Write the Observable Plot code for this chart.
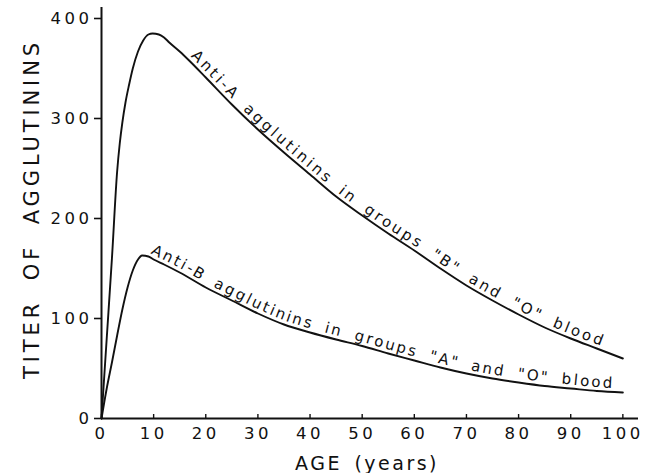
<!DOCTYPE html>
<html>
<head>
<meta charset="utf-8">
<script src="https://cdn.jsdelivr.net/npm/d3@7"></script>
<script src="https://cdn.jsdelivr.net/npm/@observablehq/plot@0.6"></script>
<style>
  html, body { margin: 0; padding: 0; background: #fff; }
</style>
</head>
<body>
<script>
// Anti-A agglutinins in groups "B" and "O" blood
const antiAAge   = [0, 1, 2, 3, 3.5, 4, 4.6, 5.3, 6, 7, 8, 9, 9.8, 11, 12, 13, 15, 17, 20, 25, 30, 35, 40, 45, 50, 55, 60, 65, 70, 75, 80, 85, 90, 95, 100];
const antiAValue = [0, 80, 160, 247, 275, 296, 316, 334, 350, 367, 378, 384, 385, 384, 381, 376, 367, 357, 341, 314, 289, 266, 244, 222, 203, 185, 168, 150, 133, 118, 104, 91, 80, 70, 60];
// Anti-B agglutinins in groups "A" and "O" blood
const antiBAge   = [0, 1, 2, 3, 4, 5, 6, 7, 7.8, 9, 10, 12, 15, 20, 25, 30, 35, 40, 45, 50, 55, 60, 65, 70, 75, 80, 85, 90, 95, 100];
const antiBValue = [0, 30, 56, 83, 109, 131, 148, 159, 163, 162, 159, 154, 146, 131, 118, 105, 94, 86, 79, 72.5, 65, 58, 51, 45, 40, 36, 32.5, 30, 27.5, 26];

const xTicks = [0, 10, 20, 30, 40, 50, 60, 70, 80, 90, 100];
const yTicks = [0, 100, 200, 300, 400];

const labelA = 'Anti-A agglutinins in groups "B" and "O" blood';
const labelB = 'Anti-B agglutinins in groups "A" and "O" blood';
const labelASpan = [16.5, 96];
const labelBSpan = [9, 98.3];
const yTitle = "TITER OF AGGLUTININS";
const xTitle = "AGE (years)";

const dataA = antiAAge.map((a, i) => ({age: a, value: antiAValue[i]}));
const dataB = antiBAge.map((a, i) => ({age: a, value: antiBValue[i]}));

const FONT = "'DejaVu Sans', sans-serif";

const plot = Plot.plot({
  width: 646,
  height: 473,
  marginLeft: 101,
  marginRight: 8,
  marginTop: 7,
  marginBottom: 55,
  x: {domain: [0, 103]},
  y: {domain: [0, 411]},
  style: {fontFamily: FONT, background: "#fff", color: "#111", overflow: "visible"},
  marks: [
    Plot.axisY({ticks: yTicks, tickSize: 7, tickPadding: 2, fontSize: 16.5, label: null, strokeWidth: 1.6}),
    Plot.axisX({ticks: xTicks, tickSize: 0, tickPadding: 9, fontSize: 16.5, label: null}),
    Plot.ruleX(xTicks, {x: d => d, y1: 0, y2: 4, strokeWidth: 1.4}),
    Plot.ruleX([0], {strokeWidth: 2}),
    Plot.ruleY([0], {strokeWidth: 2}),
    Plot.line(dataA, {x: "age", y: "value", curve: "monotone-x", stroke: "#111", strokeWidth: 1.9}),
    Plot.line(dataB, {x: "age", y: "value", curve: "monotone-x", stroke: "#111", strokeWidth: 1.9}),
    Plot.text([yTitle], {text: d => d, frameAnchor: "left", textAnchor: "middle", lineAnchor: "middle", dx: -69, dy: -4, rotate: -90, fontSize: 21}),
    Plot.text([xTitle], {text: d => d, frameAnchor: "bottom", textAnchor: "middle", lineAnchor: "middle", dx: -3, dy: 45, fontSize: 19})
  ]
});
document.body.append(plot);

const svg = plot.tagName.toLowerCase() === "svg" ? plot : plot.querySelector("svg");

function fitSpacing(t, target, wordSpacing) {
  t.style.wordSpacing = wordSpacing + "px";
  t.style.letterSpacing = "0px";
  const n = t.textContent.length;
  const len0 = t.getComputedTextLength();
  t.style.letterSpacing = ((target - len0) / n) + "px";
}

svg.querySelectorAll('g[aria-label="y-axis tick label"] text, g[aria-label="x-axis tick label"] text').forEach(t => t.style.letterSpacing = "3.5px");
svg.querySelectorAll('g[aria-label="text"] text').forEach(t => {
  if (t.textContent === yTitle) fitSpacing(t, 340, 9);
  if (t.textContent === xTitle) fitSpacing(t, 144, 4);
});

const xs = plot.scale("x");
const ns = "http://www.w3.org/2000/svg";
const linePaths = svg.querySelectorAll('g[aria-label="line"] path');

function lengthAtX(path, px) {
  let lo = 0, hi = path.getTotalLength();
  for (let i = 0; i < 40; i++) {
    const mid = (lo + hi) / 2;
    if (path.getPointAtLength(mid).x < px) lo = mid; else hi = mid;
  }
  return (lo + hi) / 2;
}

function addCurveLabel(path, id, label, span) {
  if (!path) return;
  path.setAttribute("id", id);
  const L1 = lengthAtX(path, xs.apply(span[0]));
  const L2 = lengthAtX(path, xs.apply(span[1]));
  const text = document.createElementNS(ns, "text");
  text.setAttribute("dy", "-4");
  text.setAttribute("font-size", "15");
  text.setAttribute("font-family", FONT);
  text.setAttribute("text-anchor", "start");
  text.setAttribute("fill", "#111");
  text.setAttribute("stroke", "none");
  text.style.wordSpacing = "5px";
  const tp = document.createElementNS(ns, "textPath");
  tp.setAttribute("href", "#" + id);
  tp.setAttribute("startOffset", L1);
  tp.setAttribute("text-anchor", "start");
  tp.textContent = label;
  text.appendChild(tp);
  path.parentNode.appendChild(text);
  const len0 = text.getComputedTextLength();
  const s = (L2 - L1 - len0) / label.length;
  text.style.letterSpacing = s + "px";
}
addCurveLabel(linePaths[0], "curveA", labelA, labelASpan);
addCurveLabel(linePaths[1], "curveB", labelB, labelBSpan);
</script>
</body>
</html>
